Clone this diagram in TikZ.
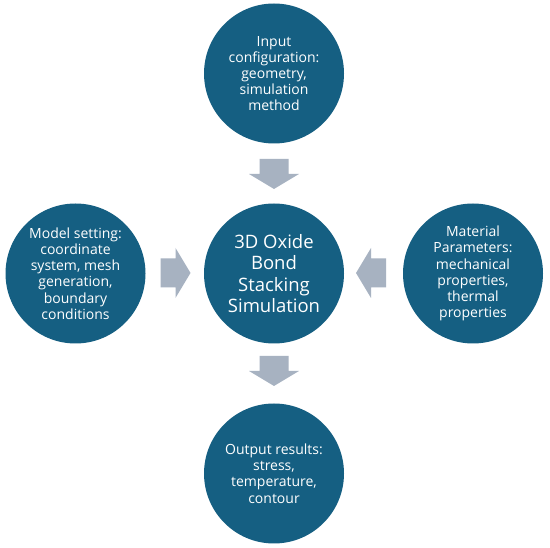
\documentclass[tikz,border=0pt]{standalone}
\usepackage{fontspec}
\setmainfont{Open Sans}
\definecolor{circfill}{HTML}{155F82}
\definecolor{arrfill}{HTML}{A7B2C1}
\begin{document}
\begin{tikzpicture}[x=1pt,y=-1pt,
  bubble/.style={circle,fill=circfill,text=white,minimum size=140pt,inner sep=0pt,align=center,
    font=\fontsize{14}{16.2}\selectfont},
  bigbubble/.style={bubble,font=\fontsize{18.5}{21.5}\selectfont},
  blockarrow/.pic={\fill[arrfill] (-15,-14.5) -- (0,-14.5) -- (0,-25) -- (15,0) -- (0,25) -- (0,14.5) -- (-15,14.5) -- cycle;}]
\useasboundingbox (0,0) rectangle (550,548);
\fill[white] (0,0) rectangle (550,548);
\node[bigbubble] (sim) at (274,273.5) {3D Oxide\\Bond\\Stacking\\Simulation};
\node[bubble] (input) at (274,73.5) {Input\\configuration:\\geometry,\\simulation\\method};
\node[bubble] (model) at (75.5,273.5) {Model setting:\\coordinate\\system, mesh\\generation,\\boundary\\conditions};
\node[bubble] (mat) at (473,273.5) {Material\\Parameters:\\mechanical\\properties,\\thermal\\properties};
\node[bubble] (out) at (274,473.5) {Output results:\\stress,\\temperature,\\contour};
\path (274,174) pic[rotate=-90] {blockarrow};
\path (274,371) pic[rotate=-90] {blockarrow};
\path (175.5,273) pic {blockarrow};
\path (371,273) pic[rotate=180] {blockarrow};
\end{tikzpicture}
\end{document}
